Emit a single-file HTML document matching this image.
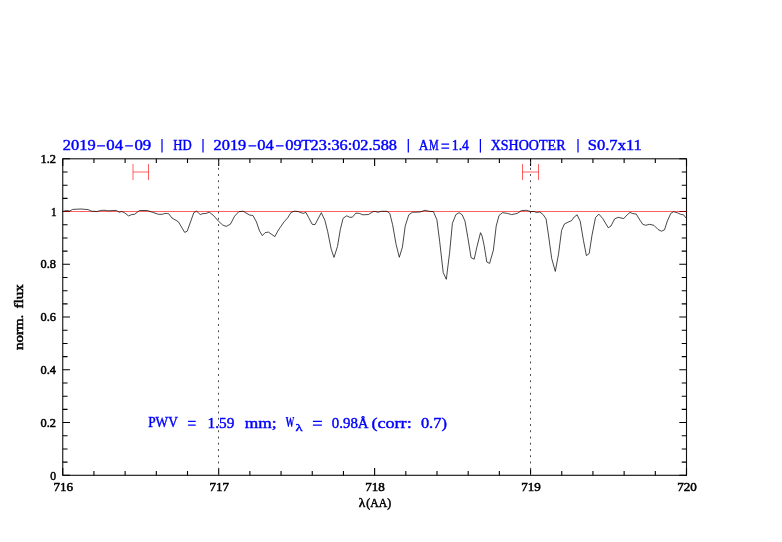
<!DOCTYPE html>
<html><head><meta charset="utf-8"><title>plot</title>
<style>
html,body{margin:0;padding:0;background:#fff;}
svg{display:block;will-change:transform}
text{font-family:"Liberation Serif",serif;white-space:pre}
.bl{fill:#0000ff;stroke:#0000ff;stroke-width:.42px;font-size:14.5px}
.bk{fill:#000;stroke:#000;stroke-width:.5px;font-size:12.2px}
</style></head><body>
<svg width="782" height="542" viewBox="0 0 782 542">
<rect width="782" height="542" fill="#fff"/>
<rect x="62.75" y="158.8" width="623.75" height="316.50" fill="none" stroke="#111" stroke-width="1.1"/>
<path d="M62.75 475.30v-7.20M62.75 158.80v7.20M93.94 475.30v-4.30M93.94 158.80v4.30M125.12 475.30v-4.30M125.12 158.80v4.30M156.31 475.30v-4.30M156.31 158.80v4.30M187.50 475.30v-4.30M187.50 158.80v4.30M218.69 475.30v-7.20M218.69 158.80v7.20M249.88 475.30v-4.30M249.88 158.80v4.30M281.06 475.30v-4.30M281.06 158.80v4.30M312.25 475.30v-4.30M312.25 158.80v4.30M343.44 475.30v-4.30M343.44 158.80v4.30M374.62 475.30v-7.20M374.62 158.80v7.20M405.81 475.30v-4.30M405.81 158.80v4.30M437.00 475.30v-4.30M437.00 158.80v4.30M468.19 475.30v-4.30M468.19 158.80v4.30M499.37 475.30v-4.30M499.37 158.80v4.30M530.56 475.30v-7.20M530.56 158.80v7.20M561.75 475.30v-4.30M561.75 158.80v4.30M592.94 475.30v-4.30M592.94 158.80v4.30M624.13 475.30v-4.30M624.13 158.80v4.30M655.31 475.30v-4.30M655.31 158.80v4.30M686.50 475.30v-7.20M686.50 158.80v7.20M62.75 475.30h7.20M686.50 475.30h-7.20M62.75 462.11h4.80M686.50 462.11h-4.80M62.75 448.93h4.80M686.50 448.93h-4.80M62.75 435.74h4.80M686.50 435.74h-4.80M62.75 422.55h7.20M686.50 422.55h-7.20M62.75 409.36h4.80M686.50 409.36h-4.80M62.75 396.18h4.80M686.50 396.18h-4.80M62.75 382.99h4.80M686.50 382.99h-4.80M62.75 369.80h7.20M686.50 369.80h-7.20M62.75 356.61h4.80M686.50 356.61h-4.80M62.75 343.43h4.80M686.50 343.43h-4.80M62.75 330.24h4.80M686.50 330.24h-4.80M62.75 317.05h7.20M686.50 317.05h-7.20M62.75 303.86h4.80M686.50 303.86h-4.80M62.75 290.68h4.80M686.50 290.68h-4.80M62.75 277.49h4.80M686.50 277.49h-4.80M62.75 264.30h7.20M686.50 264.30h-7.20M62.75 251.11h4.80M686.50 251.11h-4.80M62.75 237.93h4.80M686.50 237.93h-4.80M62.75 224.74h4.80M686.50 224.74h-4.80M62.75 211.55h7.20M686.50 211.55h-7.20M62.75 198.36h4.80M686.50 198.36h-4.80M62.75 185.18h4.80M686.50 185.18h-4.80M62.75 171.99h4.80M686.50 171.99h-4.80M62.75 158.80h7.20M686.50 158.80h-7.20" stroke="#000" stroke-width="1.1" fill="none"/>
<path d="M218.5 475.3V158.8M530.5 475.3V158.8" stroke="#484848" stroke-width="1" stroke-dasharray="1.9 4.35" stroke-dashoffset="0.65" fill="none"/>
<path d="M62.75 211.5H686.5" stroke="#ff0000" stroke-opacity=".62" stroke-width="1" fill="none"/>
<polyline points="62.5,211.5 66.3,210.5 69.8,211.0 72.7,209.4 81.1,209.0 88.1,209.6 91.6,211.2 97.3,211.5 100.8,210.4 105.0,210.3 107.8,210.8 116.3,210.4 119.1,212.2 121.9,211.5 124.7,212.9 128.5,215.9 131.7,214.6 134.6,214.3 139.5,210.5 147.2,210.5 152.8,212.4 158.5,214.3 162.7,214.3 164.8,213.4 167.6,213.6 168.5,213.6 172.0,218.0 178.4,221.8 184.7,232.4 187.2,231.2 193.8,212.7 196.6,211.2 200.2,214.5 203.0,213.6 205.8,213.5 209.3,212.2 213.5,215.5 218.4,221.1 222.7,225.0 226.2,226.4 230.4,224.2 234.6,216.2 238.8,211.7 243.1,211.2 249.4,215.0 252.9,215.5 256.4,221.8 259.5,230.9 262.3,235.6 265.2,232.6 268.4,232.1 274.9,236.6 278.4,230.0 284.1,221.8 287.6,217.9 291.1,212.4 294.6,211.2 298.1,211.5 303.1,213.4 305.9,212.4 308.7,217.6 312.2,224.3 315.0,224.6 321.3,212.7 324.9,220.4 327.7,231.6 331.2,249.2 334.0,257.4 337.5,246.4 340.3,229.5 343.1,218.3 346.7,215.8 349.5,217.2 352.3,217.3 355.8,213.1 359.3,213.4 362.8,214.8 368.5,214.5 373.4,211.5 375.5,211.5 377.8,212.3 381.3,211.3 387.0,211.3 389.8,213.4 392.6,224.7 396.1,244.4 399.3,257.3 402.4,247.2 405.2,226.1 408.8,214.8 412.3,212.3 420.0,212.0 424.9,210.3 429.2,211.3 433.4,211.6 436.9,219.8 439.7,241.6 443.2,272.5 446.3,279.3 449.6,252.8 452.4,223.3 455.9,214.6 459.1,212.7 462.2,214.8 465.0,221.2 467.8,237.4 471.1,257.7 474.2,259.2 477.0,246.5 480.5,232.7 482.1,236.0 484.2,245.8 486.8,262.0 489.6,263.4 493.4,250.0 496.2,226.1 499.0,215.5 502.5,212.7 507.4,213.4 511.6,214.6 517.3,213.4 521.5,210.6 526.4,210.3 530.6,211.5 534.2,211.5 536.3,212.5 539.8,212.0 543.3,214.8 546.1,219.1 548.2,233.1 551.7,258.5 555.3,271.4 558.5,254.2 561.6,230.3 564.4,224.0 567.9,222.2 571.4,220.8 574.2,217.0 577.1,214.8 580.2,221.2 583.4,240.2 586.4,255.6 589.2,253.5 592.0,235.2 595.5,217.6 598.8,214.1 602.6,218.3 608.2,227.7 611.0,226.0 614.5,219.0 618.1,217.3 623.7,218.6 627.2,214.8 630.0,212.4 632.8,213.6 636.3,214.1 639.2,219.0 642.7,224.2 645.5,225.3 649.7,224.3 653.9,225.3 658.1,229.5 661.4,231.2 664.5,229.8 667.3,221.1 670.8,213.4 673.6,211.7 677.1,212.7 680.7,214.3 683.5,214.8 686.3,218.3" fill="none" stroke="#000" stroke-width="0.72" stroke-linejoin="round"/>
<path d="M133 164V180M148.5 164V180M133 172H148.5M522.5 164V180M538.5 164V180M522.5 172H538.5" stroke="#ff0000" stroke-opacity=".62" stroke-width="1" fill="none"/>
<path d="M97.1 145.8H105.0M125.2 145.8H132.9M248.5 145.8H256.2M276.0 145.8H283.6" stroke="#0000ff" stroke-width="1.3" fill="none"/>
<text x="62.8" y="150.4" textLength="32.8" lengthAdjust="spacingAndGlyphs" class="bl">2019</text>
<text x="106.3" y="150.4" textLength="16.8" lengthAdjust="spacingAndGlyphs" class="bl">04</text>
<text x="134.4" y="150.4" textLength="16.8" lengthAdjust="spacingAndGlyphs" class="bl">09</text>
<text x="173.3" y="150.4" textLength="18.4" lengthAdjust="spacingAndGlyphs" class="bl">HD</text>
<text x="213.6" y="150.4" textLength="32.7" lengthAdjust="spacingAndGlyphs" class="bl">2019</text>
<text x="257.3" y="150.4" textLength="16.5" lengthAdjust="spacingAndGlyphs" class="bl">04</text>
<text x="285.2" y="150.4" textLength="16.5" lengthAdjust="spacingAndGlyphs" class="bl">09</text>
<text x="301.3" y="150.4" textLength="9.7" lengthAdjust="spacingAndGlyphs" class="bl">T</text>
<text x="310.6" y="150.4" textLength="86.4" lengthAdjust="spacingAndGlyphs" class="bl">23:36:02.588</text>
<text x="418.8" y="150.4" textLength="9.7" lengthAdjust="spacingAndGlyphs" class="bl">A</text>
<text x="429.0" y="150.4" textLength="9.7" lengthAdjust="spacingAndGlyphs" class="bl">M</text>
<text x="451.8" y="150.4" textLength="17.2" lengthAdjust="spacingAndGlyphs" class="bl">1.4</text>
<text x="490.7" y="150.4" textLength="74.8" lengthAdjust="spacingAndGlyphs" class="bl">XSHOOTER</text>
<text x="587.8" y="150.4" textLength="54.0" lengthAdjust="spacingAndGlyphs" class="bl">S0.7x11</text>
<path d="M162.0 139V152.6" stroke="#0000ff" stroke-width="1.25" fill="none"/>
<path d="M203.0 139V152.6" stroke="#0000ff" stroke-width="1.25" fill="none"/>
<path d="M408.3 139V152.6" stroke="#0000ff" stroke-width="1.25" fill="none"/>
<path d="M480.4 139V152.6" stroke="#0000ff" stroke-width="1.25" fill="none"/>
<path d="M578.0 139V152.6" stroke="#0000ff" stroke-width="1.25" fill="none"/>
<text x="148.2" y="427.1" textLength="29.7" lengthAdjust="spacingAndGlyphs" class="bl">PWV</text>
<text x="207.5" y="427.6" textLength="26.8" lengthAdjust="spacingAndGlyphs" class="bl">1.59</text>
<text x="244.8" y="427.6" textLength="31.8" lengthAdjust="spacingAndGlyphs" class="bl">mm;</text>
<text x="331.8" y="427.6" textLength="36.8" lengthAdjust="spacingAndGlyphs" class="bl">0.98Å</text>
<text x="371.4" y="427.6" textLength="40.3" lengthAdjust="spacingAndGlyphs" class="bl">(corr:</text>
<text x="420.9" y="427.6" textLength="26.0" lengthAdjust="spacingAndGlyphs" class="bl">0.7)</text>
<text x="285.6" y="426.7" textLength="8.9" lengthAdjust="spacingAndGlyphs" class="bl" style="font-weight:bold;stroke-width:.15px">W</text>
<text x="295.5" y="431.0" textLength="7.1" lengthAdjust="spacingAndGlyphs" class="bl" style="font-size:11px">λ</text>
<path d="M441.4 144.2H449.1M441.4 148.1H449.1" stroke="#0000ff" stroke-width="1.3" fill="none"/>
<path d="M188.1 421.3H195.7M188.1 425.2H195.7" stroke="#0000ff" stroke-width="1.3" fill="none"/>
<path d="M312.9 421.3H321.9M312.9 425.2H321.9" stroke="#0000ff" stroke-width="1.3" fill="none"/>
<text x="53.5" y="490.8" textLength="19.6" lengthAdjust="spacingAndGlyphs" class="bk">716</text>
<text x="209.4" y="490.8" textLength="19.6" lengthAdjust="spacingAndGlyphs" class="bk">717</text>
<text x="365.3" y="490.8" textLength="19.6" lengthAdjust="spacingAndGlyphs" class="bk">718</text>
<text x="521.3" y="490.8" textLength="19.6" lengthAdjust="spacingAndGlyphs" class="bk">719</text>
<text x="677.2" y="490.8" textLength="19.6" lengthAdjust="spacingAndGlyphs" class="bk">720</text>
<text x="50.2" y="480.0" textLength="5.8" lengthAdjust="spacingAndGlyphs" class="bk">0</text>
<text x="40.5" y="426.7" textLength="15.5" lengthAdjust="spacingAndGlyphs" class="bk">0.2</text>
<text x="40.5" y="373.9" textLength="15.5" lengthAdjust="spacingAndGlyphs" class="bk">0.4</text>
<text x="40.5" y="321.1" textLength="15.5" lengthAdjust="spacingAndGlyphs" class="bk">0.6</text>
<text x="40.5" y="268.4" textLength="15.5" lengthAdjust="spacingAndGlyphs" class="bk">0.8</text>
<text x="51.0" y="215.7" textLength="5.6" lengthAdjust="spacingAndGlyphs" class="bk">1</text>
<text x="40.5" y="162.9" textLength="15.5" lengthAdjust="spacingAndGlyphs" class="bk">1.2</text>
<text x="358.8" y="506.7" textLength="6.5" lengthAdjust="spacingAndGlyphs" class="bk">λ</text>
<text x="366.3" y="506.7" textLength="24.8" lengthAdjust="spacingAndGlyphs" class="bk">(AA)</text>
<g transform="translate(22.9 350.0) rotate(-90)"><text x="0.0" y="0.0" textLength="65.7" lengthAdjust="spacingAndGlyphs" class="bk" style="word-spacing:2px">norm. flux</text></g>
</svg>
</body></html>
